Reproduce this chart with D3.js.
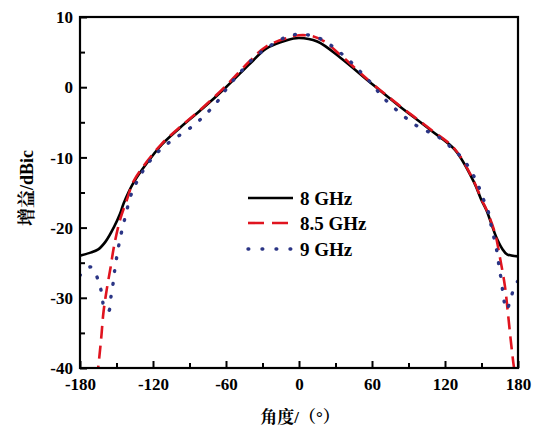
<!DOCTYPE html>
<html><head><meta charset="utf-8">
<script src="https://cdn.jsdelivr.net/npm/d3@7/dist/d3.min.js"></script>
<style>body{margin:0;background:#fff;} svg{display:block;}</style>
</head><body>
<svg id="chart" width="542" height="429"></svg>
<script>
// ---- data ----
const seriesNames = ["8 GHz", "8.5 GHz", "9 GHz"];
const xTicks = [-180, -120, -60, 0, 60, 120, 180];
const yTicks = [10, 0, -10, -20, -30, -40];

const angles8 = [-180,-172,-165,-159,-152,-147,-144,-136,-125,-113,-98,-79,-60,-40,-27,-10,0,15,34,59,81,108,128,144,150,154,158,162,167,171,180];
const gain8   = [-24.0,-23.6,-23.1,-22.0,-19.9,-18.0,-16.5,-13.6,-10.8,-8.2,-5.8,-3.0,0.0,3.4,5.5,6.7,7.0,6.5,4.2,0.6,-2.5,-6.1,-8.9,-13.6,-16.1,-17.5,-19.4,-21.3,-23.0,-23.8,-24.1];

const angles85 = [-166,-162.7,-160.8,-158.1,-154.8,-152.1,-147.1,-141.6,-136,-125,-113,-98,-79,-60,-40,-27,-10,0,10,20,34,59,81,108,128,144,150,154.2,161.1,165.2,169.3,171.2,173.4,176.2,178];
const gain85   = [-41.5,-36,-32.2,-28.9,-25.6,-22.7,-18.9,-16.1,-13.4,-10.6,-8.1,-5.7,-2.9,0.2,3.8,5.8,7.0,7.4,7.3,6.6,4.6,0.7,-2.4,-6.0,-8.8,-13.5,-16.0,-17.5,-20.8,-24.3,-28.4,-31.3,-35,-39.3,-41.5];

const angles9 = [-180,-171,-165,-162,-160,-156.5,-154.5,-152.6,-151.2,-149.3,-147.1,-144.4,-141.6,-138.6,-134.2,-128.5,-122.5,-114,-104.6,-94.3,-84.9,-76.4,-68.2,-60.8,-53.4,-45.8,-38.1,-28,-17,-6.8,5,16.4,26,34.8,43.8,52.6,60.8,68.2,76.7,86,95.9,106.8,116.4,125.1,134.2,141.6,147.1,151.2,155.5,157.8,160.3,163,164.6,166.6,168,170.7,174.2,177.5,180];
const gain9   = [-26.8,-25.6,-27.5,-29.5,-31.5,-31.9,-29.8,-27.7,-25.7,-23.7,-21.6,-19.6,-17.6,-15.6,-13.8,-12.0,-10.5,-8.9,-7.6,-6.4,-5.2,-3.8,-2.3,-0.5,1.1,2.6,4.0,5.4,6.6,7.4,7.5,7.0,6.0,4.8,3.4,1.8,0.3,-1.3,-2.7,-4.1,-5.4,-6.4,-7.3,-8.6,-10.1,-12.0,-13.9,-15.8,-17.7,-19.6,-21.5,-23.7,-25.8,-27.8,-29.9,-31.7,-30.0,-28.2,-27.6];

// ---- chart ----
const svg = d3.select("#chart");
const L = 80, R = 518, T = 17, B = 368;
const x = d3.scaleLinear().domain([-180, 180]).range([L, R]);
const y = d3.scaleLinear().domain([-40, 10]).range([B, T]);
const serif = "'Liberation Serif','Times New Roman',serif";
const cjk = "'Liberation Serif','Noto Serif CJK SC','Noto Sans CJK SC',serif";

svg.append("defs").append("clipPath").attr("id","clip")
  .append("rect").attr("x",L).attr("y",T).attr("width",R-L).attr("height",B-T);

const styles = [
  {color:"#000000", dash:null, width:2.6, cap:"butt"},
  {color:"#e0141f", dash:"13 7", width:2.6, cap:"butt"},
  {color:"#2b3585", dash:"0.8 12.2", width:3.4, cap:"round"}
];
const data = [
  angles8.map((a,i)=>[a,gain8[i]]),
  angles85.map((a,i)=>[a,gain85[i]]),
  angles9.map((a,i)=>[a,gain9[i]])
];
const line = d3.line().x(d=>x(d[0])).y(d=>y(d[1])).curve(d3.curveCatmullRom.alpha(0.5));
const g = svg.append("g").attr("clip-path","url(#clip)");
data.forEach((d,i)=>{
  g.append("path").attr("d", line(d)).attr("fill","none")
   .attr("stroke", styles[i].color).attr("stroke-width", styles[i].width)
   .attr("stroke-dasharray", styles[i].dash).attr("stroke-linecap", styles[i].cap)
   .attr("stroke-linejoin","round");
});

// axes
const xAxis = d3.axisBottom(x).tickValues(d3.range(-180,181,30)).tickSize(-7)
  .tickFormat(d => xTicks.includes(d) ? d : "");
const gx = svg.append("g").attr("transform",`translate(0,${B})`).call(xAxis);
gx.selectAll(".tick line").attr("y2", d => xTicks.includes(d) ? -7 : -5);
const yAxis = d3.axisLeft(y).tickValues(d3.range(-40,11,5)).tickSize(-7)
  .tickFormat(d => yTicks.includes(d) ? d : "");
const gy = svg.append("g").attr("transform",`translate(${L},0)`).call(yAxis);
gy.selectAll(".tick line").attr("x2", d => yTicks.includes(d) ? 7 : 5);
[gx, gy].forEach(a=>{
  a.select(".domain").remove();
  a.selectAll(".tick line").attr("stroke","#000").attr("stroke-width",2);
  a.selectAll(".tick text").attr("font-family",serif).attr("font-weight","bold")
    .attr("font-size",17).attr("fill","#000");
});
gx.selectAll(".tick text").attr("y",10).attr("dy","0.71em");
gy.selectAll(".tick text").attr("x",-7).attr("dy","0.34em");

// frame
svg.append("rect").attr("x",L).attr("y",T).attr("width",R-L).attr("height",B-T)
  .attr("fill","none").attr("stroke","#000").attr("stroke-width",2.2);

// axis titles
svg.append("text").attr("x",300).attr("y",423).attr("text-anchor","middle")
  .attr("font-family",cjk).attr("font-weight","bold").attr("font-size",17).text("角度/（°）");
svg.append("text").attr("transform","translate(33,188) rotate(-90)").attr("text-anchor","middle")
  .attr("font-family",cjk).attr("font-weight","bold").attr("font-size",18).text("增益/dBic");

// legend
const legY = [198, 223, 249];
seriesNames.forEach((n,i)=>{
  svg.append("line").attr("x1",248).attr("x2",293).attr("y1",legY[i]).attr("y2",legY[i])
    .attr("stroke",styles[i].color).attr("stroke-width",styles[i].width)
    .attr("stroke-dasharray", i===1 ? "16 8" : (i===2 ? "0.8 13.2" : null))
    .attr("stroke-linecap",styles[i].cap);
  svg.append("text").attr("x",300).attr("y",legY[i]+7).attr("font-family",serif)
    .attr("font-weight","bold").attr("font-size",19).text(n);
});
</script>
</body></html>
